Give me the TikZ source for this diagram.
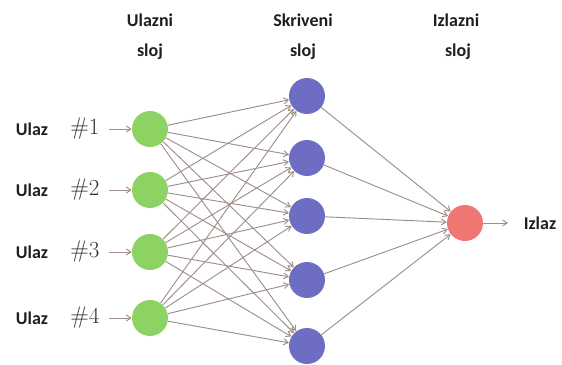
\documentclass[tikz,border=0pt]{standalone}
\usepackage{fontspec}
\setsansfont{Carlito}
\usetikzlibrary{arrows.meta}
\definecolor{inpc}{HTML}{8CD364}
\definecolor{hidc}{HTML}{6E6DC4}
\definecolor{outc}{HTML}{F07674}
\definecolor{linkc}{HTML}{9E8E89}
\begin{document}
\begin{tikzpicture}[x=0.75pt,y=-0.75pt,
  neuron/.style={circle,minimum size=27pt,inner sep=0pt},
  inneuron/.style={neuron,fill=inpc},
  hidneuron/.style={neuron,fill=hidc},
  outneuron/.style={neuron,fill=outc},
  link/.style={draw=linkc,line width=0.7pt,-{Straight Barb[length=3.5pt,width=4.5pt]}},
  head/.style={font=\sffamily\bfseries\fontsize{13.5}{13.5}\selectfont,text=black!88},
  word/.style={font=\sffamily\bfseries\fontsize{13.5}{13.5}\selectfont,text=black!88},
  num/.style={font=\fontsize{18}{18}\selectfont,text=black!80}]
\useasboundingbox (0,0) rectangle (562,365);
% layer headings
\node[head] (h1a) at (150,20) {Ulazni};
\node[head] (h1b) at (150,52) {sloj};
\node[head] (h2a) at (303,20) {Skriveni};
\node[head] (h2b) at (303,52) {sloj};
\node[head] (h3a) at (456,20) {Izlazni};
\node[head] (h3b) at (458,52) {sloj};
% input layer
\foreach \i/\y in {1/129,2/190,3/252,4/318}{
  \node[inneuron] (i\i) at (150,\y) {};
  \node[word] (w\i) at (32,\y) {Ulaz};
  \node[num] (n\i) at (85,\y) {$\#\i$};
  \draw[link] (n\i.east) ++(5,0) coordinate (s\i) -- (i\i.west);
}
% hidden layer
\foreach \j/\y in {1/96,2/158,3/216,4/280,5/346}{
  \node[hidneuron] (h\j) at (307,\y) {};
}
% output layer
\node[outneuron] (o) at (465,223) {};
\node[word] (out) at (540,223) {Izlaz};
\coordinate (oe) at (508,223);
% connections
\foreach \i in {1,...,4}{
  \foreach \j in {1,...,5}{
    \draw[link] (i\i) -- (h\j);
  }
}
\foreach \j in {1,...,5}{
  \draw[link] (h\j) -- (o);
}
\draw[link] (o.east) -- (oe);
\end{tikzpicture}
\end{document}
